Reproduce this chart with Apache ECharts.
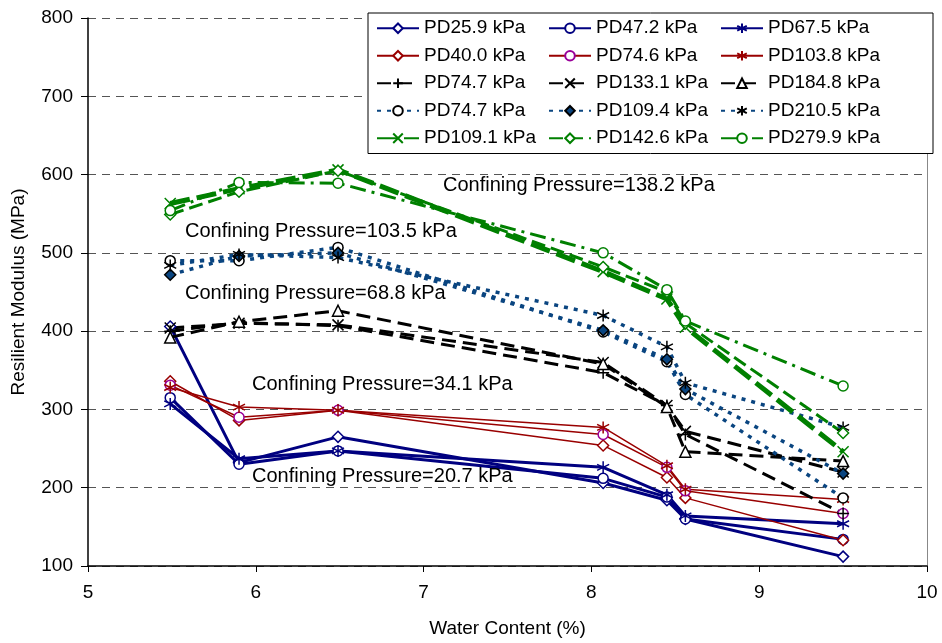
<!DOCTYPE html>
<html>
<head>
<meta charset="utf-8">
<script src="https://cdn.jsdelivr.net/npm/echarts@6/dist/echarts.min.js"></script>
<style>html,body{margin:0;padding:0;background:#fff}#c{width:942px;height:643px}</style>
</head>
<body>
<div id="c"></div>
<script>
// ---- data ----
const waterContent = [5.49, 5.9, 6.49, 8.07, 8.45, 8.56, 9.5];
const xTicks = [5, 6, 7, 8, 9, 10];
const yTicks = [100, 200, 300, 400, 500, 600, 700, 800];

const pd25_9  = [406, 232, 265, 206, 184, 160, 112];
const pd47_2  = [315, 230, 247, 212, 188, 160, 134];
const pd67_5  = [307, 237, 247, 226, 191, 164, 154];
const pd40_0  = [336, 286, 299, 254, 213, 187, 133];
const pd74_6  = [331, 290, 299, 268, 226, 196, 167];
const pd103_8 = [328, 303, 299, 277, 228, 198, 185];
const pd74_7a = [400, 411, 407, 347, 305, 268, 167];
const pd133_1 = [404, 410, 408, 360, 305, 272, 220];
const pd184_8 = [392, 412, 426, 358, 303, 246, 234];
const pd74_7b = [490, 490, 507, 399, 361, 319, 187];
const pd109_4 = [472, 496, 500, 401, 364, 326, 218];
const pd210_5 = [484, 498, 494, 420, 380, 334, 277];
const pd109_1 = [563, 582, 606, 476, 441, 405, 246];
const pd142_6 = [549, 578, 605, 482, 450, 410, 270];
const pd279_9 = [554, 590, 589, 500, 453, 413, 330];

const seriesNames = [
  'PD25.9 kPa', 'PD47.2 kPa', 'PD67.5 kPa',
  'PD40.0 kPa', 'PD74.6 kPa', 'PD103.8 kPa',
  'PD74.7 kPa', 'PD133.1 kPa', 'PD184.8 kPa',
  'PD74.7 kPa ', 'PD109.4 kPa', 'PD210.5 kPa',
  'PD109.1 kPa', 'PD142.6 kPa', 'PD279.9 kPa'
];
const seriesValues = [pd25_9, pd47_2, pd67_5, pd40_0, pd74_6, pd103_8,
  pd74_7a, pd133_1, pd184_8, pd74_7b, pd109_4, pd210_5, pd109_1, pd142_6, pd279_9];

const annotations = [
  'Confining Pressure=138.2 kPa',
  'Confining Pressure=103.5 kPa',
  'Confining Pressure=68.8 kPa',
  'Confining Pressure=34.1 kPa',
  'Confining Pressure=20.7 kPa'
];

// ---- styles ----
const FONT = '"Liberation Sans", Arial, sans-serif';
const SYM_X = 'path://M0,0L10,10M10,0L0,10';
const SYM_PLUS = 'path://M5,0L5,10M0,5L10,5';
const SYM_AST = 'path://M5,0L5,10M0.7,2.5L9.3,7.5M9.3,2.5L0.7,7.5';

const NAVY = '#000080', RED = '#990000', PURP = '#990099', BLK = '#000000', DBLUE = '#0a4580', GRN = '#008000';

function st(line, width, dash, sym, symColor, fill, size) {
  return {line, width, dash, sym, symColor, fill, size};
}
const styles = [
  st(NAVY, 3, 'solid', 'diamond', NAVY, '#fff', 11),
  st(NAVY, 3, 'solid', 'circle', NAVY, '#fff', 10),
  st(NAVY, 3, 'solid', SYM_AST, NAVY, NAVY, 12),
  st(RED, 1.5, 'solid', 'diamond', RED, '#fff', 11),
  st(RED, 1.5, 'solid', 'circle', PURP, '#fff', 10),
  st(RED, 1.5, 'solid', SYM_AST, RED, RED, 12),
  st(BLK, 3, [14, 7], SYM_PLUS, BLK, BLK, 12),
  st(BLK, 3, [14, 7], SYM_X, BLK, BLK, 11),
  st(BLK, 3, [14, 7], 'triangle', BLK, '#fff', 11),
  st(DBLUE, 3.5, [4, 6], 'circle', BLK, '#fff', 10),
  st(DBLUE, 3.5, [4, 6], 'diamond', BLK, DBLUE, 11),
  st(DBLUE, 3.5, [4, 6], SYM_AST, BLK, BLK, 12),
  st(GRN, 5, [20, 7], SYM_X, GRN, GRN, 11),
  st(GRN, 3, [14, 6], 'diamond', GRN, '#fff', 11),
  st(GRN, 3, [16, 6, 3, 6], 'circle', GRN, '#fff', 10)
];

const series = seriesNames.map((name, i) => {
  const s = styles[i];
  return {
    name, type: 'line',
    data: waterContent.map((x, j) => [x, seriesValues[i][j]]),
    symbol: s.sym, symbolSize: s.size, showSymbol: true,
    lineStyle: {color: s.line, width: s.width, type: s.dash},
    itemStyle: {color: s.fill, borderColor: s.symColor, borderWidth: 1.5},
    emphasis: {disabled: true},
    z: 2
  };
});

const chart = echarts.init(document.getElementById('c'), null, {renderer: 'canvas'});
const annPos = [[443, 185], [185, 231], [185, 293], [252, 384], [252, 476]];
chart.setOption({
  animation: false,
  backgroundColor: '#fff',
  grid: {left: 88, right: 15, top: 18, bottom: 76, containLabel: false},
  xAxis: {
    type: 'value', min: xTicks[0], max: xTicks[xTicks.length - 1], interval: 1,
    name: 'Water Content (%)', nameLocation: 'middle', nameGap: 53,
    nameTextStyle: {fontFamily: FONT, fontSize: 19, color: '#000'},
    axisLine: {show: true, lineStyle: {color: '#000', width: 1.5}},
    axisTick: {show: true, length: 6, lineStyle: {color: '#000'}},
    axisLabel: {fontFamily: FONT, fontSize: 19, color: '#000', margin: 17},
    splitLine: {show: false}
  },
  yAxis: [{
    type: 'value', min: yTicks[0], max: yTicks[yTicks.length - 1], interval: 100,
    name: 'Resilient Modulus (MPa)', nameLocation: 'middle', nameGap: 60,
    nameTextStyle: {fontFamily: FONT, fontSize: 19, color: '#000'},
    axisLine: {show: true, lineStyle: {color: '#000', width: 1.5}},
    axisTick: {show: true, length: 7, lineStyle: {color: '#000'}},
    axisLabel: {fontFamily: FONT, fontSize: 19, color: '#000', margin: 15},
    splitLine: {show: true, lineStyle: {color: '#555', width: 1, type: [8, 6]}}
  }, {
    type: 'value', min: yTicks[0], max: yTicks[yTicks.length - 1], interval: 100,
    position: 'right',
    axisLine: {show: true, lineStyle: {color: '#888', width: 1}},
    axisTick: {show: false}, axisLabel: {show: false}, splitLine: {show: false}
  }],
  legend: {
    data: seriesNames,
    left: 368, top: 13, width: 515,
    orient: 'horizontal',
    padding: [4, 46, 4, 8],
    itemGap: 5,
    itemWidth: 42, itemHeight: 12,
    backgroundColor: '#fff',
    borderColor: '#000', borderWidth: 1,
    textStyle: {fontFamily: FONT, fontSize: 19, color: '#000', width: 119, lineHeight: 22.5},
    selectedMode: false
  },
  graphic: annotations.map((t, i) => ({
    type: 'text', x: annPos[i][0], y: annPos[i][1], z: 10,
    style: {text: t, font: '20px ' + FONT, fill: '#000', verticalAlign: 'middle'}
  })),
  series
});
</script>
</body>
</html>
